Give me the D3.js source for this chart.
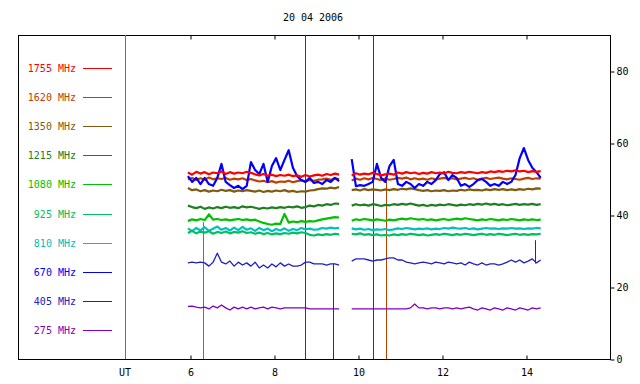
<!DOCTYPE html>
<html>
<head>
<meta charset="utf-8">
<script src="https://cdn.jsdelivr.net/npm/d3@7"></script>
<style>
  html, body { margin: 0; padding: 0; background: #fff; }
  svg { display: block; }
  text { font-family: "DejaVu Sans Mono", monospace; font-size: 10px; }
</style>
</head>
<body>
<svg id="chart" width="640" height="384"></svg>
<script>
// ---------------- DATA ----------------
const title = "20 04 2006";
const frequencies = ["1755 MHz", "1620 MHz", "1350 MHz", "1215 MHz", "1080 MHz", "925 MHz", "810 MHz", "670 MHz", "405 MHz", "275 MHz"];
const colors = ["#ff0000", "#c04000", "#805a10", "#208020", "#00c000", "#00c060", "#00c0c0", "#0000ff", "#2020c0", "#8000c0"];
const xTicks = [6, 8, 10, 12, 14];
const yTicks = [0, 20, 40, 60, 80];
const utHour = 4.45;

// time grid of the two recorded segments (hours UT)
const seg1Start = 5.95, seg1Count = 37;
const seg2Start = 9.85, seg2Count = 46;
const stepHours = 0.1;

// segment 1 values (solar flux units)
const s1_1755 = [51.8,51.2,52.0,51.5,51.9,51.3,51.8,51.6,52.1,51.4,51.9,51.5,51.8,51.6,52.0,51.7,51.3,51.0,51.4,50.9,51.2,50.8,51.1,50.9,51.2,50.8,51.0,50.6,51.1,50.7,51.0,51.2,50.9,51.4,51.1,51.5,51.2];
const s1_1620 = [49.9,50.3,49.7,50.2,49.8,50.4,49.9,50.2,50.0,50.3,49.8,50.1,49.9,50.2,49.7,50.0,49.6,49.3,49.5,49.1,49.4,49.0,49.3,49.2,49.5,49.1,49.4,49.6,49.3,49.7,49.5,49.8,49.9,50.1,49.8,50.2,50.0];
const s1_1350 = [47.5,46.9,47.1,46.6,46.9,46.5,46.8,46.6,47.0,46.7,46.9,46.5,46.8,46.6,46.9,46.7,46.5,46.8,46.4,46.7,46.5,46.8,46.6,46.9,46.5,46.7,46.4,46.6,46.5,46.8,46.9,47.2,47.4,47.3,47.6,47.4,47.8];
const s1_1215 = [42.6,42.2,41.9,42.3,41.7,42.1,41.8,42.2,41.9,42.3,42.0,42.2,41.9,42.4,42.1,42.3,42.0,41.7,42.0,41.8,42.1,41.9,42.2,42.0,42.3,42.1,42.4,42.0,42.2,42.6,42.4,42.8,42.6,43.0,42.8,43.2,43.1];
const s1_1080 = [38.3,38.8,38.5,38.9,38.6,40.2,38.7,38.9,38.6,38.8,38.5,38.7,38.9,38.6,38.8,38.5,38.7,38.2,37.8,37.5,37.3,37.6,37.5,40.3,37.9,38.2,38.0,38.3,38.1,38.3,38.2,38.5,38.8,39.0,39.2,39.4,39.3];
const s1_925  = [35.0,35.6,34.9,35.4,35.1,35.5,34.8,35.3,35.0,35.4,34.9,35.3,35.1,35.5,35.0,35.2,34.8,35.1,34.7,35.0,34.6,34.9,34.7,35.0,34.8,35.1,34.9,35.2,35.0,34.5,34.3,34.6,34.4,34.7,34.5,34.8,34.6];
const s1_810  = [36.3,35.5,36.4,35.7,36.6,35.6,36.2,36.8,35.9,36.4,35.7,36.5,35.8,36.7,35.9,36.3,35.6,36.4,35.8,36.2,35.5,36.1,35.7,36.3,35.6,36.1,35.8,36.4,36.0,36.2,35.9,36.0,36.4,36.2,36.5,36.3,36.4];
const s1_670  = [50.8,49.2,50.3,48.6,50.3,48.6,48.1,50.3,54.2,49.2,48.3,47.5,48.1,47.2,48.1,54.7,52.5,51.4,54.2,49.2,53.6,55.8,52.5,55.3,58.0,53.1,50.8,49.7,49.2,50.3,48.9,49.2,48.6,49.7,49.2,50.3,49.4];
const s1_405  = [26.7,26.9,26.7,26.9,26.7,25.8,26.9,29.4,26.9,26.4,27.2,25.8,26.9,26.1,26.7,25.8,26.9,25.3,26.1,25.3,26.4,25.6,26.7,25.8,26.4,25.8,25.8,26.1,26.9,26.9,26.4,26.4,26.4,26.1,26.4,26.4,26.1];
const s1_275  = [14.6,14.7,14.4,14.2,14.4,13.9,14.7,14.2,15.0,14.2,13.6,14.4,13.9,14.4,13.9,14.4,13.9,14.2,14.4,13.9,14.4,14.2,13.9,14.2,14.2,14.2,14.2,14.2,14.2,13.9,13.9,13.9,13.9,13.9,13.9,13.9,13.9];

// segment 2 values
const s2_1755 = [51.0,51.6,51.2,51.5,51.3,51.7,51.4,51.0,51.3,51.5,51.2,51.8,51.5,51.9,51.6,51.8,51.4,51.7,51.5,51.9,51.6,51.8,51.5,52.0,51.7,51.6,51.9,51.7,52.0,51.8,51.6,51.9,51.7,52.1,51.9,52.2,52.0,52.3,52.1,52.4,52.1,52.3,51.9,52.2,52.0,52.2];
const s2_1620 = [49.6,50.1,49.8,50.2,49.9,50.3,50.0,49.7,50.1,49.8,50.0,50.3,50.1,50.4,49.9,50.2,49.9,50.1,49.8,50.2,49.9,50.1,50.3,50.0,50.2,49.9,50.1,50.3,50.0,50.2,49.8,50.1,50.3,50.0,50.2,50.4,50.1,49.9,50.2,50.0,49.8,50.1,50.3,50.0,50.2,50.1];
const s2_1350 = [46.9,47.1,46.8,47.2,46.9,47.1,47.0,46.8,47.1,46.9,47.2,47.0,47.3,47.1,47.4,47.2,46.9,46.7,46.9,46.6,46.8,46.7,46.9,46.6,46.8,46.7,47.0,46.8,47.1,46.9,47.0,46.8,47.1,46.9,47.2,47.0,47.2,46.9,47.1,46.9,47.2,47.0,47.3,47.1,47.4,47.3];
const s2_1215 = [42.6,43.0,42.7,42.9,42.6,43.0,42.8,42.5,42.8,42.7,43.0,42.8,43.1,42.9,43.2,42.9,42.6,42.8,42.5,42.8,42.6,42.9,42.7,43.0,42.8,42.6,42.9,42.7,43.0,42.8,43.1,42.9,43.2,42.9,43.1,42.8,43.0,42.7,42.9,43.1,42.8,43.0,42.9,43.1,42.8,43.0];
const s2_1080 = [38.4,38.8,38.6,38.9,38.7,38.5,38.8,38.6,38.4,38.7,38.5,38.8,39.0,38.8,39.1,38.9,38.7,38.9,38.6,38.8,38.5,38.7,38.9,38.6,38.8,39.0,38.8,39.1,38.9,38.7,38.5,38.8,38.6,38.9,38.7,38.5,38.8,38.6,38.9,38.7,38.5,38.8,38.6,38.8,38.6,38.7];
const s2_925  = [34.8,34.6,34.9,34.5,34.7,34.4,34.6,34.3,34.5,34.3,34.6,34.4,34.7,34.5,34.8,34.6,34.4,34.6,34.3,34.5,34.7,34.5,34.8,34.6,34.4,34.7,34.5,34.8,34.6,34.4,34.6,34.8,34.5,34.7,34.5,34.8,34.6,34.4,34.6,34.8,34.5,34.7,34.5,34.7,34.6,34.8];
const s2_810  = [36.3,36.0,36.2,35.9,36.1,35.8,36.0,35.9,36.1,35.8,36.0,36.3,36.1,36.4,36.2,36.0,36.2,36.1,36.3,36.0,36.2,36.1,36.4,36.2,36.5,36.3,36.2,36.4,36.1,36.3,36.0,36.2,36.4,36.2,36.3,36.1,36.3,36.2,36.4,36.2,36.3,36.1,36.3,36.2,36.4,36.3];
const s2_670  = [55.5,48.0,48.3,48.1,48.6,49.2,54.2,50.3,49.2,53.6,55.3,48.6,48.1,49.2,48.6,47.5,48.6,48.1,49.2,48.6,49.7,51.4,51.9,49.7,51.1,50.3,48.1,48.6,47.8,48.6,49.7,50.0,49.2,48.1,48.6,48.1,49.2,48.6,49.2,51.1,55.8,58.6,55.3,53.1,51.9,50.3];
const s2_405  = [27.2,27.8,27.8,27.8,27.5,27.2,27.5,27.5,27.8,28.1,28.1,27.5,27.5,26.9,26.7,26.4,26.7,26.9,26.7,26.4,26.9,26.7,26.4,26.9,26.7,26.4,26.7,26.1,26.9,26.4,26.1,26.7,26.1,26.4,26.4,26.1,26.4,26.9,27.5,26.9,27.5,26.7,27.2,27.8,26.7,27.5];
const s2_275  = [13.9,13.9,13.9,13.9,13.9,13.9,13.9,13.9,13.9,13.9,13.9,13.9,13.9,13.9,14.2,15.3,14.2,14.2,13.9,14.2,14.2,13.9,14.2,14.2,13.9,14.2,13.9,14.2,14.4,13.9,13.6,14.2,13.9,13.6,14.2,13.9,13.6,14.2,13.9,13.6,14.2,13.9,13.6,14.2,13.9,14.2];

// vertical spikes: [hour, from, to, series index]
const spikeHours = [6.31, 8.74, 9.40, 10.36, 10.67, 14.21];
const spikeFrom  = [0, 0, 0, 0, 0, 26.5];
const spikeTo    = [38.0, 90, 26.5, 90, 51.0, 33.0];
const spikeSeries = [4, 9, 8, 9, 1, 8];

// ---------------- CHART ----------------
const svg = d3.select("#chart");
const frame = {left: 18, right: 610, top: 35, bottom: 359};

const x = d3.scaleLinear().domain([6, 14]).range([190, 526]);
const y = d3.scaleLinear().domain([0, 90]).range([frame.bottom, frame.top]);

const seg1Values = [s1_1755, s1_1620, s1_1350, s1_1215, s1_1080, s1_925, s1_810, s1_670, s1_405, s1_275];
const seg2Values = [s2_1755, s2_1620, s2_1350, s2_1215, s2_1080, s2_925, s2_810, s2_670, s2_405, s2_275];
const hours1 = d3.range(seg1Count).map(i => seg1Start + i * stepHours);
const hours2 = d3.range(seg2Count).map(i => seg2Start + i * stepHours);

// title
svg.append("text").attr("x", 313).attr("y", 21).attr("text-anchor", "middle").text(title);

// frame
svg.append("rect")
  .attr("x", frame.left + 0.5).attr("y", frame.top + 0.5)
  .attr("width", frame.right - frame.left).attr("height", frame.bottom - frame.top)
  .attr("fill", "none").attr("stroke", "#000").attr("stroke-width", 1);

// UT separator line
svg.append("line")
  .attr("x1", Math.round(x(utHour)) + 0.5).attr("x2", Math.round(x(utHour)) + 0.5)
  .attr("y1", frame.top).attr("y2", frame.bottom)
  .attr("stroke", "#707070").attr("stroke-width", 1);

// bottom axis
const bottomAxis = d3.axisBottom(x).tickValues(xTicks).tickSize(-4).tickPadding(9).tickFormat(d3.format("d"));
const gB = svg.append("g").attr("transform", `translate(0.5,${frame.bottom + 0.5})`).call(bottomAxis);
gB.select(".domain").remove();
gB.selectAll("text").attr("font-family", "DejaVu Sans Mono").attr("font-size", 10).attr("fill", "#000");
gB.selectAll("line").attr("stroke", "#000");
svg.append("text").attr("x", x(utHour)).attr("y", 376).attr("text-anchor", "middle").text("UT");

// top axis ticks
const topAxis = d3.axisTop(x).tickValues(xTicks).tickSize(-4).tickFormat("");
const gT = svg.append("g").attr("transform", `translate(0.5,${frame.top + 0.5})`).call(topAxis);
gT.select(".domain").remove();
gT.selectAll("line").attr("stroke", "#000");

// right axis
const rightAxis = d3.axisRight(y).tickValues(yTicks).tickSize(4).tickPadding(2).tickFormat(d3.format("d"));
const gR = svg.append("g").attr("transform", `translate(${frame.right + 0.5},0.5)`).call(rightAxis);
gR.select(".domain").remove();
gR.selectAll("text").attr("font-family", "DejaVu Sans Mono").attr("font-size", 10).attr("fill", "#000");
gR.selectAll("line").attr("stroke", "#000");

// legend
const legendY = d3.scaleLinear().domain([0, 9]).range([68, 330]);
const legend = svg.append("g");
frequencies.forEach((f, i) => {
  const ly = Math.round(legendY(i));
  legend.append("text").attr("x", 76).attr("y", ly).attr("dy", "0.35em")
    .attr("text-anchor", "end").attr("fill", colors[i]).text(f);
  legend.append("line").attr("x1", 83).attr("x2", 112).attr("y1", ly + 0.5).attr("y2", ly + 0.5)
    .attr("stroke", colors[i]).attr("stroke-width", 1);
});

// spikes
spikeHours.forEach((h, i) => {
  const px = Math.round(x(h)) + 0.5;
  svg.append("line").attr("x1", px).attr("x2", px)
    .attr("y1", y(spikeFrom[i])).attr("y2", y(spikeTo[i]))
    .attr("stroke", colors[spikeSeries[i]]).attr("stroke-width", 1);
});

// series lines
const line = d3.line().x(d => x(d[0])).y(d => y(d[1])).curve(d3.curveLinear);
const drawOrder = [9, 8, 6, 5, 4, 3, 2, 1, 7, 0];
drawOrder.forEach(i => {
  const w = (i === 8 || i === 9) ? 1.3 : 2.2;
  [[hours1, seg1Values[i]], [hours2, seg2Values[i]]].forEach(([hs, vs]) => {
    svg.append("path")
      .datum(hs.map((h, k) => [h, vs[k]]))
      .attr("d", line)
      .attr("fill", "none")
      .attr("stroke", colors[i])
      .attr("stroke-width", w)
      .attr("stroke-linejoin", "round");
  });
});
</script>
</body>
</html>
